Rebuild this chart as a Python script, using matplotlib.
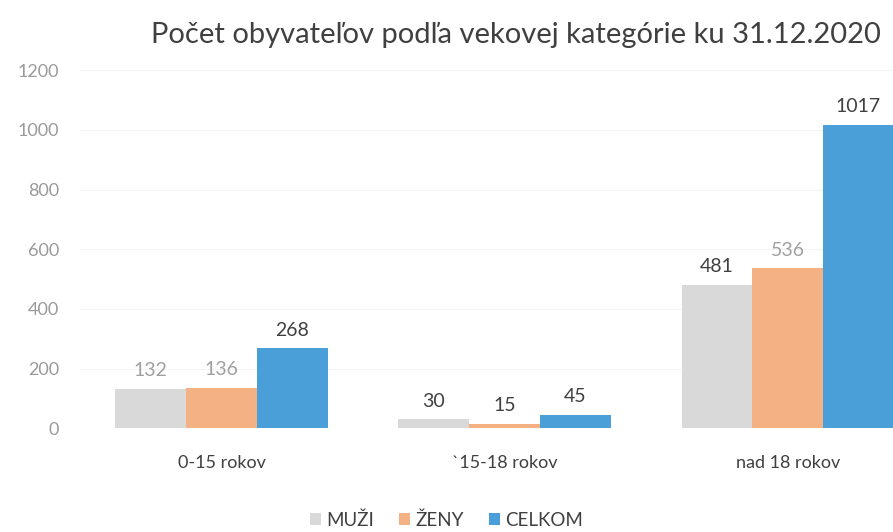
import numpy as np
import matplotlib
matplotlib.use('Agg')
import matplotlib.pyplot as plt

# data
categories = ["0-15 rokov", "`15-18 rokov", "nad 18 rokov"]
series_names = ["MUŽI", "ŽENY", "CELKOM"]
muzi = [132, 30, 481]
zeny = [136, 15, 536]
celkom = [268, 45, 1017]
y_ticks = [0, 200, 400, 600, 800, 1000, 1200]

colors = ['#d9d9d9', '#f4b183', '#4a9fd8']
# label colours as they come out of the scan
label_colors = [['#a0a0a0', '#404040', '#404040'],
                ['#a0a0a0', '#404040', '#a0a0a0'],
                ['#404040', '#404040', '#404040']]

plt.rcParams['font.family'] = ['Lato', 'DejaVu Sans']

fig = plt.figure(figsize=(8.93, 5.32), dpi=100)
ax = fig.add_axes([0.0896, 0.195, 0.951, 0.673])

x = np.arange(len(categories))
width = 0.25
for i, (vals, name) in enumerate(zip([muzi, zeny, celkom], series_names)):
    pos = x + (i - 1) * width
    bars = ax.bar(pos, vals, width, color=colors[i], label=name, zorder=2)
    for j, b in enumerate(bars):
        ax.annotate(str(vals[j]), (b.get_x() + b.get_width() / 2, b.get_height()),
                    xytext=(0, 7), textcoords='offset points',
                    ha='center', va='bottom', fontsize=14,
                    color=label_colors[i][j])

ax.set_xlim(-0.5, 2.5)
ax.set_ylim(0, 1200)
ax.set_yticks(y_ticks)
ax.set_xticks(x)
ax.set_xticklabels(categories, fontsize=13, color='#404040')
ax.tick_params(axis='y', length=0, pad=15, labelsize=13, labelcolor='#9a9a9a')
ax.tick_params(axis='x', length=0, pad=19)
ax.grid(axis='y', color='#f4f4f4', linewidth=0.8, zorder=0)
for s in ax.spines.values():
    s.set_visible(False)

fig.text(0.578, 0.935, "Počet obyvateľov podľa vekovej kategórie ku 31.12.2020",
         ha='center', va='center', fontsize=21, color='#404040')

ax.legend(loc='center', bbox_to_anchor=(0.5, 0.023), bbox_transform=fig.transFigure,
          ncol=3, frameon=False, fontsize=13.5, handlelength=0.6, handleheight=0.6,
          handletextpad=0.3, columnspacing=1.3, labelcolor='#404040')

fig.savefig('out.png', dpi=100, facecolor='white')
